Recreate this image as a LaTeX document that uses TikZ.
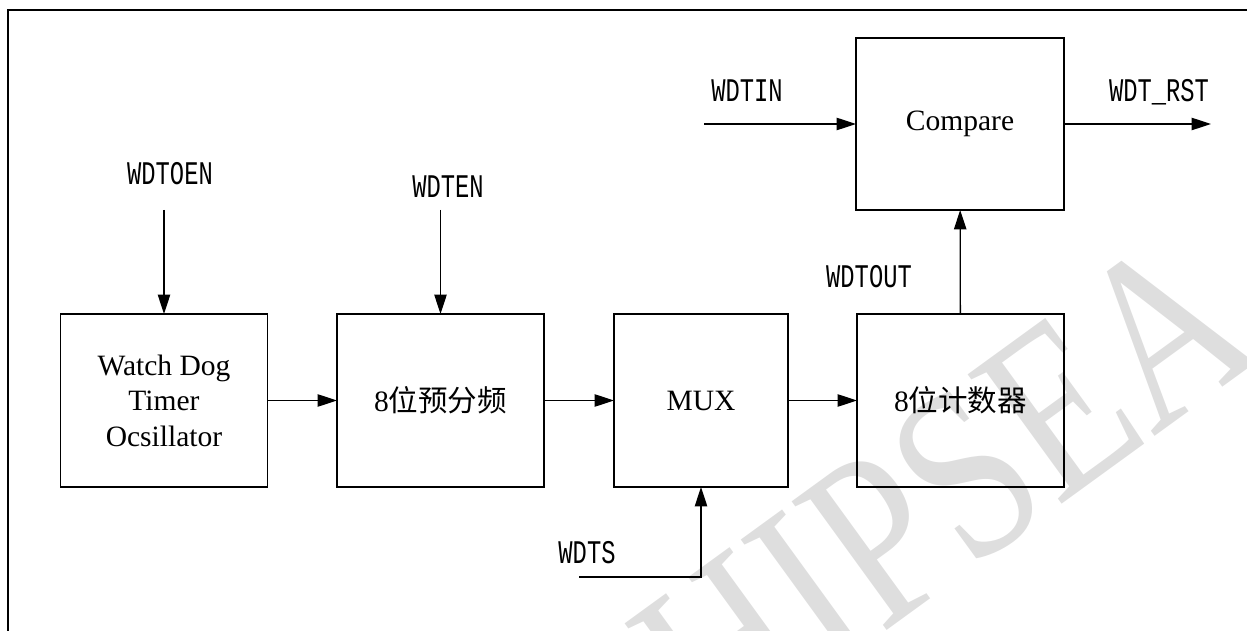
\documentclass[tikz,border=0pt]{standalone}
\usepackage{fontspec}
\usepackage{graphicx}
\setmainfont{Liberation Serif}
\newfontfamily\cjk{Noto Sans CJK SC}
\newfontfamily\sigfont{Liberation Mono}
\usetikzlibrary{arrows.meta}
\newcommand{\sig}[1]{\scalebox{0.72}[1]{\sigfont\fontsize{18.8}{20}\selectfont #1}}

\begin{document}
\begin{tikzpicture}[x=0.02cm, y=-0.02cm, >={Triangle[length=11pt,width=7pt]}, line width=0.75pt,
  blk/.style={draw, inner sep=0pt, outer sep=0pt, minimum width=4.15cm, minimum height=3.46cm, align=center, font=\fontsize{16.8}{20.2}\selectfont},
  lbl/.style={anchor=base, inner sep=0pt}]
  \useasboundingbox (0,0) rectangle (1247,631);

  % watermark
  \begin{scope}
    \clip (0,0) rectangle (1247,631);
    \node[rotate=36, text=black!13, font=\fontsize{139}{139}\selectfont] (wm) at (892,529) {\scalebox{0.8}[1]{CHIPSEA}};
  \end{scope}

  \draw (8,631) -- (8,10) -- (1247,10);

  \node[blk] (osc) at (164,400.5) {Watch Dog\\Timer\\Ocsillator};
  \node[blk, minimum width=4.14cm] (presc) at (440.5,400.5) {8{\cjk 位预分频}};
  \node[blk, minimum width=3.48cm] (mux) at (701,400.5) {MUX};
  \node[blk, minimum width=4.14cm] (cnt) at (960.5,400.5) {8{\cjk 位计数器}};
  \node[blk, minimum width=4.16cm, minimum height=3.44cm] (cmp) at (960,124) {Compare};

  \node[lbl] (oen) at (170,185) {\sig{WDTOEN}};
  \node[lbl] (en) at (448,198) {\sig{WDTEN}};
  \node[lbl] (ts) at (587,563) {\sig{WDTS}};
  \node[lbl] (tout) at (869,288) {\sig{WDTOUT}};
  \node[lbl] (tin) at (747,102) {\sig{WDTIN}};
  \node[lbl] (rst) at (1159,102) {\sig{WDT\_RST}};

  \coordinate (oenA) at (164,210);
  \coordinate (enA) at (440.5,210);
  \coordinate (tsA) at (579,577);
  \coordinate (tinA) at (704,124);
  \coordinate (rstA) at (1211,124);

  \draw[->] (oenA) -- (osc);
  \draw[->] (enA) -- (presc);
  \draw[->] (osc) -- (presc);
  \draw[->] (presc) -- (mux);
  \draw[->] (mux) -- (cnt);
  \draw[->] (tsA) -| (mux);
  \draw[->] (cnt) -- (cmp);
  \draw[->] (tinA) -- (cmp);
  \draw[->] (cmp) -- (rstA);
\end{tikzpicture}
\end{document}
